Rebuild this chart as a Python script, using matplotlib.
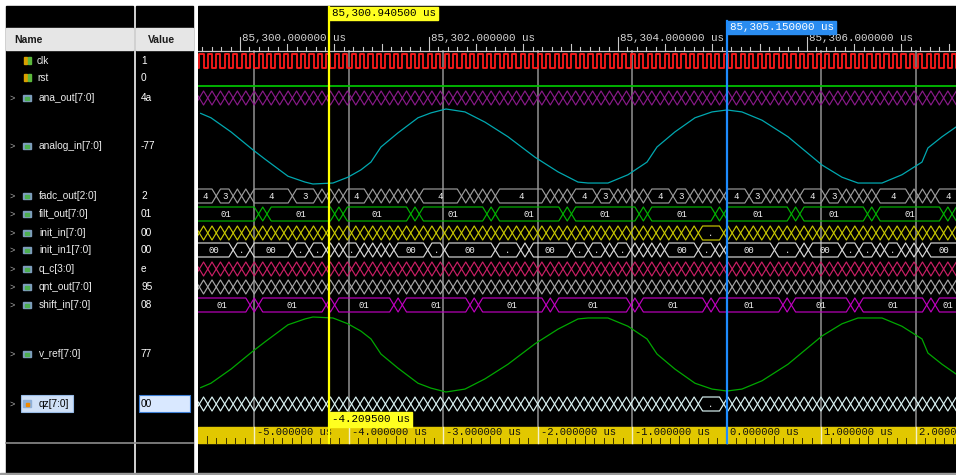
import numpy as np
import matplotlib
matplotlib.use("Agg")
import matplotlib.pyplot as plt
from matplotlib.patches import Rectangle

# ---------------- data ----------------
T_BASE_US = 85300.0            # ruler origin (us); all times below are offsets from it
main_cursor_us = 0.9405        # 85,300.940500 us
ref_cursor_us = 5.15           # 85,305.150000 us
view_start_us = -0.444
view_end_us = 7.577

signal_names = ["clk", "rst", "ana_out[7:0]", "analog_in[7:0]", "fadc_out[2:0]",
                "filt_out[7:0]", "init_in[7:0]", "init_in1[7:0]", "q_c[3:0]",
                "qnt_out[7:0]", "shift_in[7:0]", "v_ref[7:0]", "qz[7:0]"]
signal_values = ["1", "0", "4a", "-77", "2", "01", "00", "00", "e", "95", "08", "77", "00"]

clk_period_us = 0.0895
clk_first_rise_us = -0.43

analog_t_us = [-0.416, -0.307, -0.095, 0.138, 0.265, 0.508, 0.688, 0.772, 0.984, 1.143,
               1.280, 1.386, 1.492, 1.672, 1.884, 2.021, 2.180, 2.381, 2.593, 2.836,
               3.122, 3.365, 3.577, 3.683, 3.894, 4.106, 4.307, 4.413, 4.603, 4.815,
               4.995, 5.153, 5.312, 5.524, 5.799, 6.159, 6.370, 6.540, 6.794, 7.005,
               7.217, 7.280, 7.429, 7.577]
analog_in_vals = [68, 59, 30, -7, -26, -61, -73, -77, -75, -63,
                  -48, -32, -1, 28, 59, 69, 77, 71, 50, 20,
                  -22, -52, -73, -75, -75, -58, -32, -1, 30, 59,
                  71, 75, 71, 54, 20, -38, -63, -75, -75, -58,
                  -32, -3, 20, 40]
v_ref_vals = [-68, -59, -30, 7, 26, 61, 73, 77, 75, 63,
              48, 32, 1, -28, -59, -69, -77, -71, -50, -20,
              22, 52, 73, 75, 75, 58, 32, 1, -30, -59,
              -71, -75, -71, -54, -20, 38, 63, 75, 75, 58,
              32, 3, -20, -40]

fadc_out_holds = [(-0.50, -0.222, "4"), (-0.222, -0.032, "3"), (0.148, 0.593, "4"),
                  (0.593, 0.815, "3"), (1.122, 1.365, "4"), (1.915, 2.360, "4"),
                  (2.709, 3.280, "4"), (3.545, 3.778, "4"), (3.778, 3.979, "3"),
                  (4.286, 4.571, "4"), (4.571, 4.794, "3"), (5.132, 5.376, "4"),
                  (5.376, 5.608, "3"), (5.926, 6.190, "4"), (6.190, 6.402, "3"),
                  (6.730, 7.090, "4"), (7.354, 7.70, "4")]
filt_out_value = "01"
filt_out_glitch_us = [0.238, 1.053, 1.868, 2.661, 3.455, 4.249, 5.063, 5.889, 6.683, 7.487]
shift_in_value = "01"
shift_in_glitch_us = [0.148, 0.942, 1.714, 2.508, 3.323, 4.148, 4.942, 5.746, 6.550, 7.354]
init_in_holds = [(4.88, 5.15, ".")]
init_in1_holds = [(-0.50, -0.10, "00"), (-0.10, 0.08, "."), (0.14, 0.57, "00"), (0.57, 0.75, "."),
                  (0.75, 0.93, "."), (1.10, 1.28, "."), (1.60, 1.97, "00"), (1.97, 2.15, "."),
                  (2.15, 2.74, "00"), (2.74, 2.99, "."), (3.08, 3.50, "00"), (3.50, 3.69, "."),
                  (3.69, 3.87, "."), (3.96, 4.14, "."), (4.48, 4.83, "00"), (4.83, 5.01, "."),
                  (5.10, 5.70, "00"), (5.70, 5.88, "."), (5.97, 6.41, "00"), (6.41, 6.59, "."),
                  (6.59, 6.77, "."), (6.86, 7.04, "."), (7.31, 7.70, "00")]
qz_holds = [(4.88, 5.12, ".")]
toggle_holds = []   # buses changing on every clock

# ---------------- layout ----------------
W, H = 956, 475
X0 = 198                       # left edge of wave area (px)
row_y = [61, 78, 98, 146, 196, 214, 233, 250, 269, 287, 305, 354, 404]
analog_rows = {"analog_in": (109, 184), "v_ref": (317, 392)}
HALF = 7

MONO = "Liberation Mono"
SANS = "Liberation Sans"

fig = plt.figure(figsize=(W / 100, H / 100), dpi=100, facecolor="white")

# ---------- left panel ----------
axl = fig.add_axes([0, 0, X0 / W, 1])
axl.set_xlim(0, X0)
axl.set_ylim(H, 0)
axl.axis("off")
axl.add_patch(Rectangle((0, 0), X0, H, color="white"))
axl.add_patch(Rectangle((6, 6), 127, H - 6, color="black"))
axl.add_patch(Rectangle((136, 6), 57, H - 6, color="black"))
axl.add_patch(Rectangle((6, 28), 127, 22, color="#e6e6e6"))
axl.add_patch(Rectangle((136, 28), 57, 22, color="#e6e6e6"))
axl.plot([6, 193], [443, 443], color="#8c8c8c", lw=1.2)
axl.add_patch(Rectangle((0, 473), X0, 2, color="#9a9a9a"))
axl.text(14, 40, "Name", fontfamily=SANS, fontsize=7.5, fontweight="bold",
         color="#1a1a1a", va="center")
axl.text(148, 40, "Value", fontfamily=SANS, fontsize=7.5, fontweight="bold",
         color="#1a1a1a", va="center")

for i, (nm, val, y) in enumerate(zip(signal_names, signal_values, row_y)):
    is_bit = nm in ("clk", "rst")
    is_sel = nm.startswith("qz")
    if is_sel:
        axl.add_patch(Rectangle((21, y - 9), 52, 17, facecolor="#cfe0f7",
                                edgecolor="#98bbe6", lw=0.8))
        axl.add_patch(Rectangle((139, y - 9), 51, 17, facecolor="#d9e8ff",
                                edgecolor="#3d7fd6", lw=0.8))
    if not is_bit:
        axl.text(10, y, ">", fontfamily=SANS, fontsize=6.5, color="#a8a8a8", va="center")
    if is_bit:
        axl.add_patch(Rectangle((24, y - 4), 3, 7, color="#d8a000"))
        axl.add_patch(Rectangle((27.5, y - 4), 3, 7, color="#5cb83c"))
    elif is_sel:
        axl.add_patch(Rectangle((23, y - 4), 8, 7, color="#8fb0d8"))
        axl.add_patch(Rectangle((25.5, y - 1.5), 3, 3, color="#f08a00"))
    else:
        axl.add_patch(Rectangle((23, y - 3.5), 8, 6, color="#7d9cbc"))
        axl.add_patch(Rectangle((25, y - 1.5), 4, 3, color="#4caf50"))
    axl.text(39 if not is_bit else 37, y, nm, fontfamily=SANS, fontsize=7.3,
             color="#000000" if is_sel else "#ececec", va="center")
    axl.text(141, y, val, fontfamily=SANS, fontsize=7.3,
             color="#000000" if is_sel else "#ffffff", va="center")

# ---------- wave area ----------
ax = fig.add_axes([X0 / W, 0, (W - X0) / W, 1])
ax.set_xlim(view_start_us, view_end_us)
ax.set_ylim(H, 0)
ax.axis("off")
ax.add_patch(Rectangle((view_start_us, 6), view_end_us - view_start_us, H - 6,
                       color="black", zorder=0))
px_per_us = (W - X0) / (view_end_us - view_start_us)
P = clk_period_us
SLOPE = P / 2


def clock_edges():
    k0 = int(np.floor((view_start_us - clk_first_rise_us) / P)) - 2
    k1 = int(np.ceil((view_end_us - clk_first_rise_us) / P)) + 2
    return clk_first_rise_us + P * np.arange(k0, k1 + 1)


EDGES = clock_edges()


def snap(t):
    return EDGES[np.argmin(np.abs(EDGES - t))]


def bus_segments(holds):
    sh = [(snap(a), snap(b), lab) for a, b, lab in holds]
    bounds = []
    for e in EDGES:
        if not any(a + 1e-9 < e < b - 1e-9 for a, b, _ in sh):
            bounds.append(e)
    segs = []
    for a, b in zip(bounds[:-1], bounds[1:]):
        lab = None
        for ha, hb, hl in sh:
            if ha - 1e-9 <= a and b <= hb + 1e-9:
                lab = hl
        segs.append((a, b, lab))
    return segs


def glitch_holds(glitches, value):
    holds = []
    prev = view_start_us - 1
    for g in glitches:
        holds.append((prev, g - P / 2, value))
        prev = g + P / 2
    holds.append((prev, view_end_us + 1, value))
    return holds


def draw_bus(segs, yc, color):
    xt, yt, xb, yb = [], [], [], []
    for a, b, lab in segs:
        s = min(SLOPE, (b - a) / 2)
        xt += [a, a + s, b - s, b]
        yt += [yc, yc - HALF, yc - HALF, yc]
        xb += [a, a + s, b - s, b]
        yb += [yc, yc + HALF, yc + HALF, yc]
        if lab:
            va_ = max(a + s, view_start_us)
            vb_ = min(b - s, view_end_us)
            wpx = (vb_ - va_) * px_per_us
            need = len(lab) * 5.4 + 2
            if wpx >= need:
                ax.text((va_ + vb_) / 2, yc + 0.5, lab, fontfamily=MONO, fontsize=6.5,
                        color="#f2f2f2", ha="center", va="center", zorder=4)
    ax.plot(xt, yt, color=color, lw=0.85, zorder=3)
    ax.plot(xb, yb, color=color, lw=0.85, zorder=3)


# grid lines (1 us steps relative to reference cursor)
grid_rel = [k for k in range(-5, 3) if k != 0]
for k in grid_rel:
    ax.plot([ref_cursor_us + k] * 2, [51, 443], color="#7c7c7c", lw=1.3, zorder=1)

# top ruler
ax.plot([view_start_us, view_end_us], [51, 51], color="#c8c8c8", lw=0.9, zorder=2)
for t in np.arange(np.ceil(view_start_us * 10) / 10, view_end_us, 0.1):
    tr = round(t, 1)
    is_lab = abs(tr / 2 - round(tr / 2)) < 1e-6
    is_half = abs(tr * 2 - round(tr * 2)) < 1e-6
    top = 37 if is_lab else (44 if is_half else 47)
    ax.plot([tr, tr], [top, 51], color="#c8c8c8", lw=0.8, zorder=2)
    if is_lab:
        ax.text(tr + 2 / px_per_us, 38, f"{T_BASE_US + tr:,.6f} us", fontfamily=MONO,
                fontsize=7.8, color="#d6d6d6", va="center", ha="left", zorder=2)

# clock
xs, ys = [], []
for r in EDGES:
    xs += [r, r, r + P / 2, r + P / 2]
    ys += [68, 54, 54, 68]
ax.plot(xs, ys, color="#ff1a1a", lw=1.3, zorder=3)
# rst (constant low)
ax.plot([view_start_us, view_end_us], [86, 86], color="#00c000", lw=1.3, zorder=3)

bus_specs = [
    (2, toggle_holds, "#8a1a8a"),
    (4, fadc_out_holds, "#9c9c9c"),
    (5, glitch_holds(filt_out_glitch_us, filt_out_value), "#00b400"),
    (6, init_in_holds, "#c8c800"),
    (7, init_in1_holds, "#d8d8d8"),
    (8, toggle_holds, "#cc1f66"),
    (9, toggle_holds, "#a8a8a8"),
    (10, glitch_holds(shift_in_glitch_us, shift_in_value), "#c000c0"),
    (12, qz_holds, "#dcf4f4"),
]
for idx, holds, col in bus_specs:
    draw_bus(bus_segments(holds), row_y[idx], col)

# bottom ruler band
ax.add_patch(Rectangle((view_start_us, 427), view_end_us - view_start_us, 16,
                       color="#e2c800", zorder=2))
for t in np.arange(np.ceil((view_start_us - ref_cursor_us) * 10) / 10,
                   view_end_us - ref_cursor_us, 0.1):
    tr = round(t, 1)
    is_half = abs(tr * 2 - round(tr * 2)) < 1e-6
    ax.plot([ref_cursor_us + tr] * 2, [436 if is_half else 438, 443], color="#3a3000",
            lw=0.7, zorder=3)
for k in range(-5, 3):
    tk = ref_cursor_us + k
    ax.plot([tk, tk], [427, 443], color="#f4f0c8", lw=1.0, zorder=3)
    ax.text(tk + 3 / px_per_us, 432, f"{k:.6f} us", fontfamily=MONO, fontsize=7.6,
            color="#111111", va="center", ha="left", zorder=4)
ax.add_patch(Rectangle((view_start_us, 473), view_end_us - view_start_us, 2,
                       color="#9a9a9a", zorder=2))

# ---------- analog rows (own axes) ----------
for (key, (ytop, ybot)), vals, col in zip(analog_rows.items(), [analog_in_vals, v_ref_vals],
                                          ["#00a8b0", "#00a800"]):
    a2 = fig.add_axes([X0 / W, 1 - ybot / H, (W - X0) / W, (ybot - ytop) / H])
    a2.set_xlim(view_start_us, view_end_us)
    a2.set_ylim(-77, 77)
    a2.axis("off")
    a2.patch.set_alpha(0)
    a2.plot(analog_t_us, vals, color=col, lw=0.9, clip_on=False)

# ---------- cursors overlay ----------
ao = fig.add_axes([X0 / W, 0, (W - X0) / W, 1])
ao.set_xlim(view_start_us, view_end_us)
ao.set_ylim(H, 0)
ao.axis("off")
ao.patch.set_alpha(0)
ao.plot([main_cursor_us] * 2, [7, 443], color="#ffff00", lw=1.6)
ao.plot([ref_cursor_us] * 2, [21, 443], color="#1e8cff", lw=1.6)
ao.add_patch(Rectangle((main_cursor_us, 7), 109 / px_per_us, 13, color="#ffff20"))
ao.text(main_cursor_us + 3 / px_per_us, 13.5, f"{T_BASE_US + main_cursor_us:,.6f} us",
        fontfamily=MONO, fontsize=7.8, color="black", va="center")
ao.add_patch(Rectangle((ref_cursor_us, 21), 109 / px_per_us, 13, color="#2a8cf0"))
ao.text(ref_cursor_us + 3 / px_per_us, 27.5, f"{T_BASE_US + ref_cursor_us:,.6f} us",
        fontfamily=MONO, fontsize=7.8, color="white", va="center")
ao.add_patch(Rectangle((main_cursor_us, 412), 83 / px_per_us, 15, color="#ffff20"))
ao.text(main_cursor_us + 3 / px_per_us, 419.5, f"{main_cursor_us - ref_cursor_us:.6f} us",
        fontfamily=MONO, fontsize=7.8, color="black", va="center")

fig.savefig("out.png", dpi=100, facecolor="white")
